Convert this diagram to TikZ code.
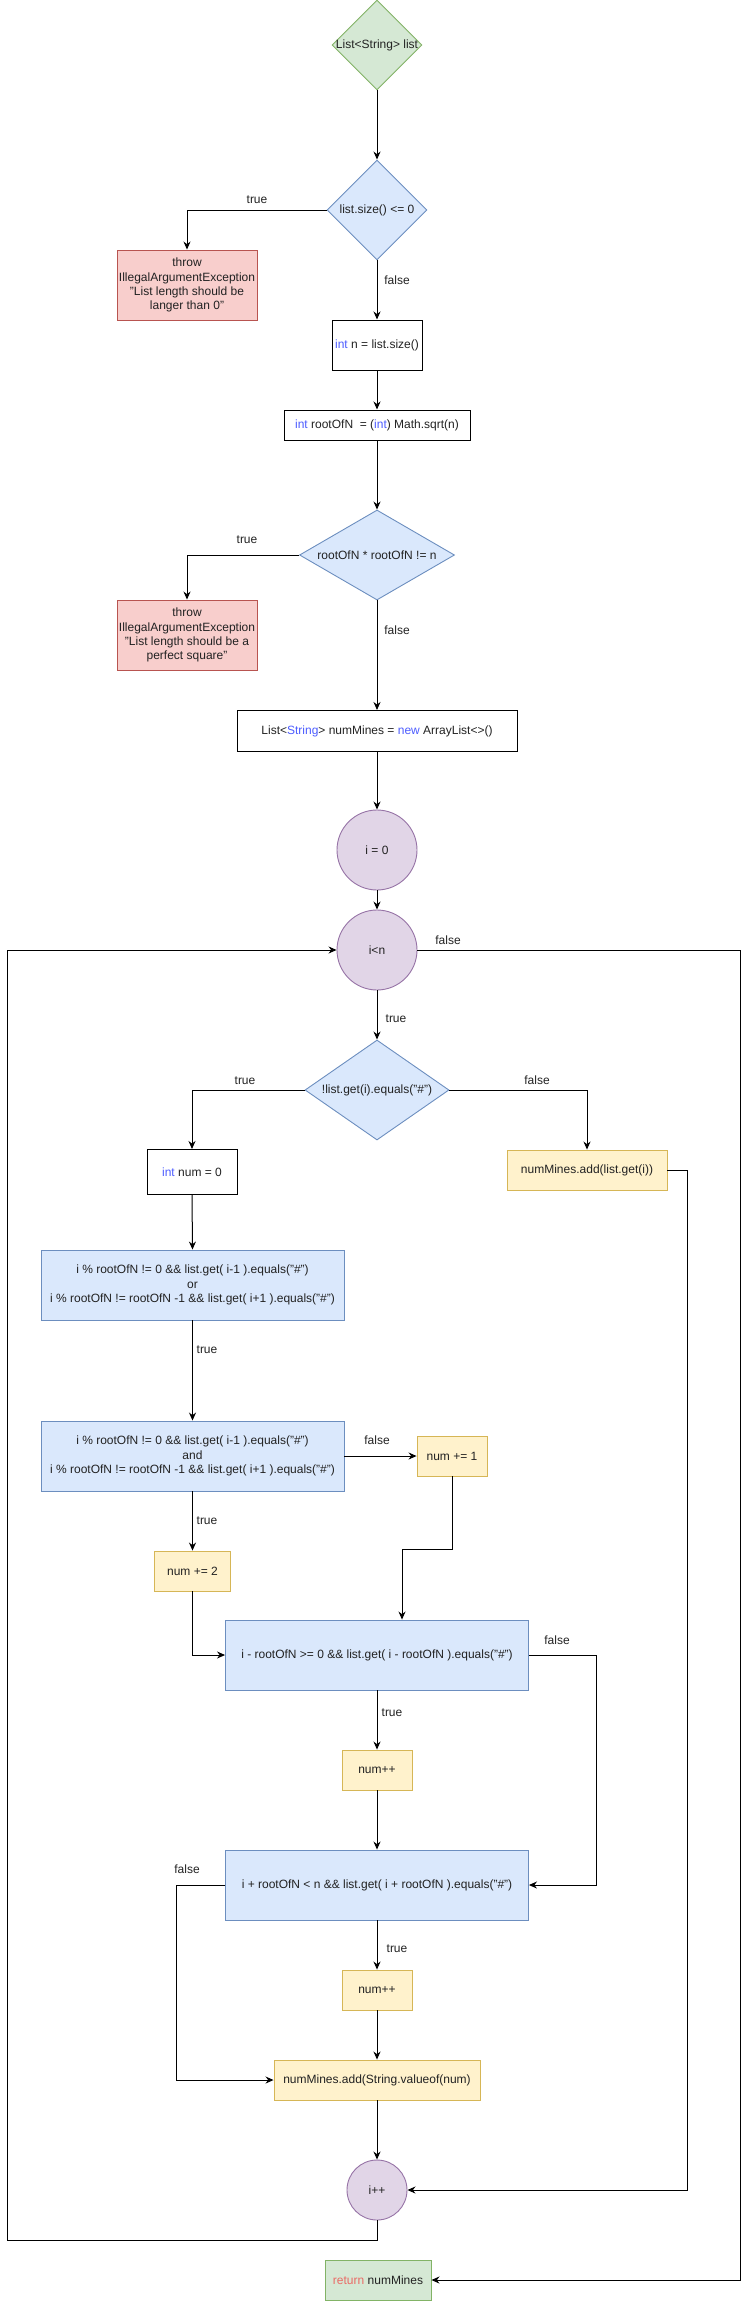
\documentclass[tikz,border=0pt]{standalone}
\usepackage{fontspec}
\setmainfont{Liberation Sans}
\usetikzlibrary{shapes.geometric,arrows.meta,calc}
\definecolor{gfill}{HTML}{D5E8D4}\definecolor{gdraw}{HTML}{82B366}
\definecolor{bfill}{HTML}{DAE8FC}\definecolor{bdraw}{HTML}{6C8EBF}
\definecolor{rfill}{HTML}{F8CECC}\definecolor{rdraw}{HTML}{B85450}
\definecolor{yfill}{HTML}{FFF2CC}\definecolor{ydraw}{HTML}{D6B656}
\definecolor{pfill}{HTML}{E1D5E7}\definecolor{pdraw}{HTML}{9673A6}
\definecolor{kw}{HTML}{4C5CFF}
\definecolor{retc}{HTML}{EA6B66}
\definecolor{txt}{HTML}{222222}
\begin{document}
\begin{tikzpicture}[x=1pt,y=-1pt,
  font=\fontsize{12}{14.2}\selectfont, text=txt,
  wbox/.style={draw=black, rectangle, inner sep=0pt, align=center, line width=1pt},
  bbox/.style={draw=bdraw, fill=bfill, rectangle, inner sep=0pt, align=center, line width=0.9pt},
  ybox/.style={draw=ydraw, fill=yfill, rectangle, inner sep=0pt, align=center, line width=0.9pt},
  rbox/.style={draw=rdraw, fill=rfill, rectangle, inner sep=0pt, align=center, line width=0.9pt, minimum width=140pt, minimum height=70pt},
  gbox/.style={draw=gdraw, fill=gfill, rectangle, inner sep=0pt, align=center, line width=0.9pt},
  bdia/.style={draw=bdraw, fill=bfill, diamond, inner sep=0pt, line width=0.9pt},
  gdia/.style={draw=gdraw, fill=gfill, diamond, inner sep=0pt, line width=0.9pt},
  pcirc/.style={draw=pdraw, fill=pfill, circle, inner sep=0pt, line width=0.9pt},
  arr/.style={-{Stealth[length=8pt,width=7pt]}, line width=1pt, draw=black},
  ln/.style={line width=1pt, draw=black},
  lbl/.style={inner sep=0pt}]
\useasboundingbox (0,0) rectangle (746,2301);

% nodes
\node[gdia, minimum width=90pt, minimum height=90pt] (d1) at (377,45) {};
\node[inner sep=0pt] (d1t) at (d1.center) {List<String> list};
\node[bdia, minimum width=100pt, minimum height=100pt] (d2) at (377,210) {};
\node[inner sep=0pt] (d2t) at (d2.center) {list.size() <= 0};
\node[rbox] (r1) at (187,285) {throw\\IllegalArgumentException\\"List length should be\\langer than 0"};
\node[wbox, minimum width=90pt, minimum height=50pt] (intn) at (377,345) {{\color{kw}int} n = list.size()};
\node[wbox, minimum width=186pt, minimum height=30pt] (root) at (377,425) {{\color{kw}int} rootOfN\ \ = ({\color{kw}int}) Math.sqrt(n)};
\node[bdia, minimum width=155pt, minimum height=90pt] (d3) at (377,555) {};
\node[inner sep=0pt] (d3t) at (d3.center) {rootOfN * rootOfN != n};
\node[rbox] (r2) at (187,635) {throw\\IllegalArgumentException\\"List length should be a\\perfect square"};
\node[wbox, minimum width=280pt, minimum height=41pt] (nm) at (377,731) {List<{\color{kw}String}> numMines = {\color{kw}new} ArrayList<>()};
\node[pcirc, minimum size=80pt] (i0) at (377,850) {i = 0};
\node[pcirc, minimum size=80pt] (lt) at (377,950) {i<n};
\node[bdia, minimum width=144pt, minimum height=100pt] (d4) at (377,1090) {};
\node[inner sep=0pt] (d4t) at (d4.center) {!list.get(i).equals("\#")};
\node[wbox, minimum width=90pt, minimum height=45pt] (num0) at (192,1172) {{\color{kw}int} num = 0};
\node[ybox, minimum width=160pt, minimum height=40pt] (addl) at (587,1170) {numMines.add(list.get(i))};
\node[bbox, minimum width=303pt, minimum height=70pt] (b1) at (192.5,1285) {i \% rootOfN != 0 \&\& list.get( i-1 ).equals("\#")\\or\\i \% rootOfN != rootOfN -1 \&\& list.get( i+1 ).equals("\#")};
\node[bbox, minimum width=303pt, minimum height=70pt] (b2) at (192.5,1456) {i \% rootOfN != 0 \&\& list.get( i-1 ).equals("\#")\\and\\i \% rootOfN != rootOfN -1 \&\& list.get( i+1 ).equals("\#")};
\node[ybox, minimum width=70pt, minimum height=40pt] (p1) at (452,1456) {num += 1};
\node[ybox, minimum width=76pt, minimum height=40pt] (p2) at (192.5,1571) {num += 2};
\node[bbox, minimum width=303pt, minimum height=70pt] (b3) at (377,1655) {i - rootOfN >= 0 \&\& list.get( i - rootOfN ).equals("\#")};
\node[ybox, minimum width=70pt, minimum height=40pt] (pp1) at (377,1770) {num++};
\node[bbox, minimum width=303pt, minimum height=70pt] (b4) at (377,1885) {i + rootOfN < n \&\& list.get( i + rootOfN ).equals("\#")};
\node[ybox, minimum width=70pt, minimum height=40pt] (pp2) at (377,1990) {num++};
\node[ybox, minimum width=206pt, minimum height=40pt] (add2) at (377,2080) {numMines.add(String.valueof(num)};
\node[pcirc, minimum size=60pt] (ipp) at (377,2190) {i++};
\node[gbox, minimum width=106pt, minimum height=40pt] (ret) at (378,2280) {{\color{retc}return} numMines};

% coordinates
\coordinate (cR) at (740,950);
\coordinate (cA) at (687,1170);
\coordinate (cL) at (7,2240);

% connectors
\draw[arr] (d1.south) -- (d2.north);
\draw[arr] (d2.west) -| (r1.north);
\draw[arr] (d2.south) -- (intn.north);
\draw[arr] (intn.south) -- (root.north);
\draw[arr] (root.south) -- (d3.north);
\draw[arr] (d3.west) -| (r2.north);
\draw[arr] (d3.south) -- (nm.north);
\draw[arr] (nm.south) -- (i0.north);
\draw[arr] (i0.south) -- (lt.north);
\draw[arr] (lt.east) -- (cR) |- (ret.east);
\draw[arr] (lt.south) -- (d4.north);
\draw[arr] (d4.west) -| (num0.north);
\draw[arr] (d4.east) -| (addl.north);
\draw[arr] (addl.east) -- (cA) |- (ipp.east);
\draw[arr] (num0.south) -- (b1.north);
\draw[arr] (b1.south) -- (b2.north);
\draw[arr] (b2.east) -- (p1.west);
\draw[arr] (b2.south) -- (p2.north);
\draw[arr] (p1.south) -- ++(0,73) -| ([xshift=25pt]b3.north);
\draw[arr] (p2.south) |- (b3.west);
\draw[arr] (b3.east) -- ++(68,0) |- (b4.east);
\draw[arr] (b3.south) -- (pp1.north);
\draw[arr] (pp1.south) -- (b4.north);
\draw[arr] (b4.west) -- ++(-49,0) |- (add2.west);
\draw[arr] (b4.south) -- (pp2.north);
\draw[arr] (pp2.south) -- (add2.north);
\draw[arr] (add2.south) -- (ipp.north);
\draw[arr] (ipp.south) |- (cL) |- (lt.west);

% edge labels
\node[lbl] (l1) at (257,200) {true};
\node[lbl] (l2) at (397,280) {false};
\node[lbl] (l3) at (247,540) {true};
\node[lbl] (l4) at (397,630) {false};
\node[lbl] (l5) at (448,940) {false};
\node[lbl] (l6) at (396,1019) {true};
\node[lbl] (l7) at (245,1081) {true};
\node[lbl] (l8) at (537,1080) {false};
\node[lbl] (l9) at (207,1350) {true};
\node[lbl] (l10) at (377,1440) {false};
\node[lbl] (l11) at (207,1521) {true};
\node[lbl] (l12) at (557,1640) {false};
\node[lbl] (l13) at (392,1713) {true};
\node[lbl] (l14) at (187,1869) {false};
\node[lbl] (l15) at (397,1949) {true};
\end{tikzpicture}
\end{document}
